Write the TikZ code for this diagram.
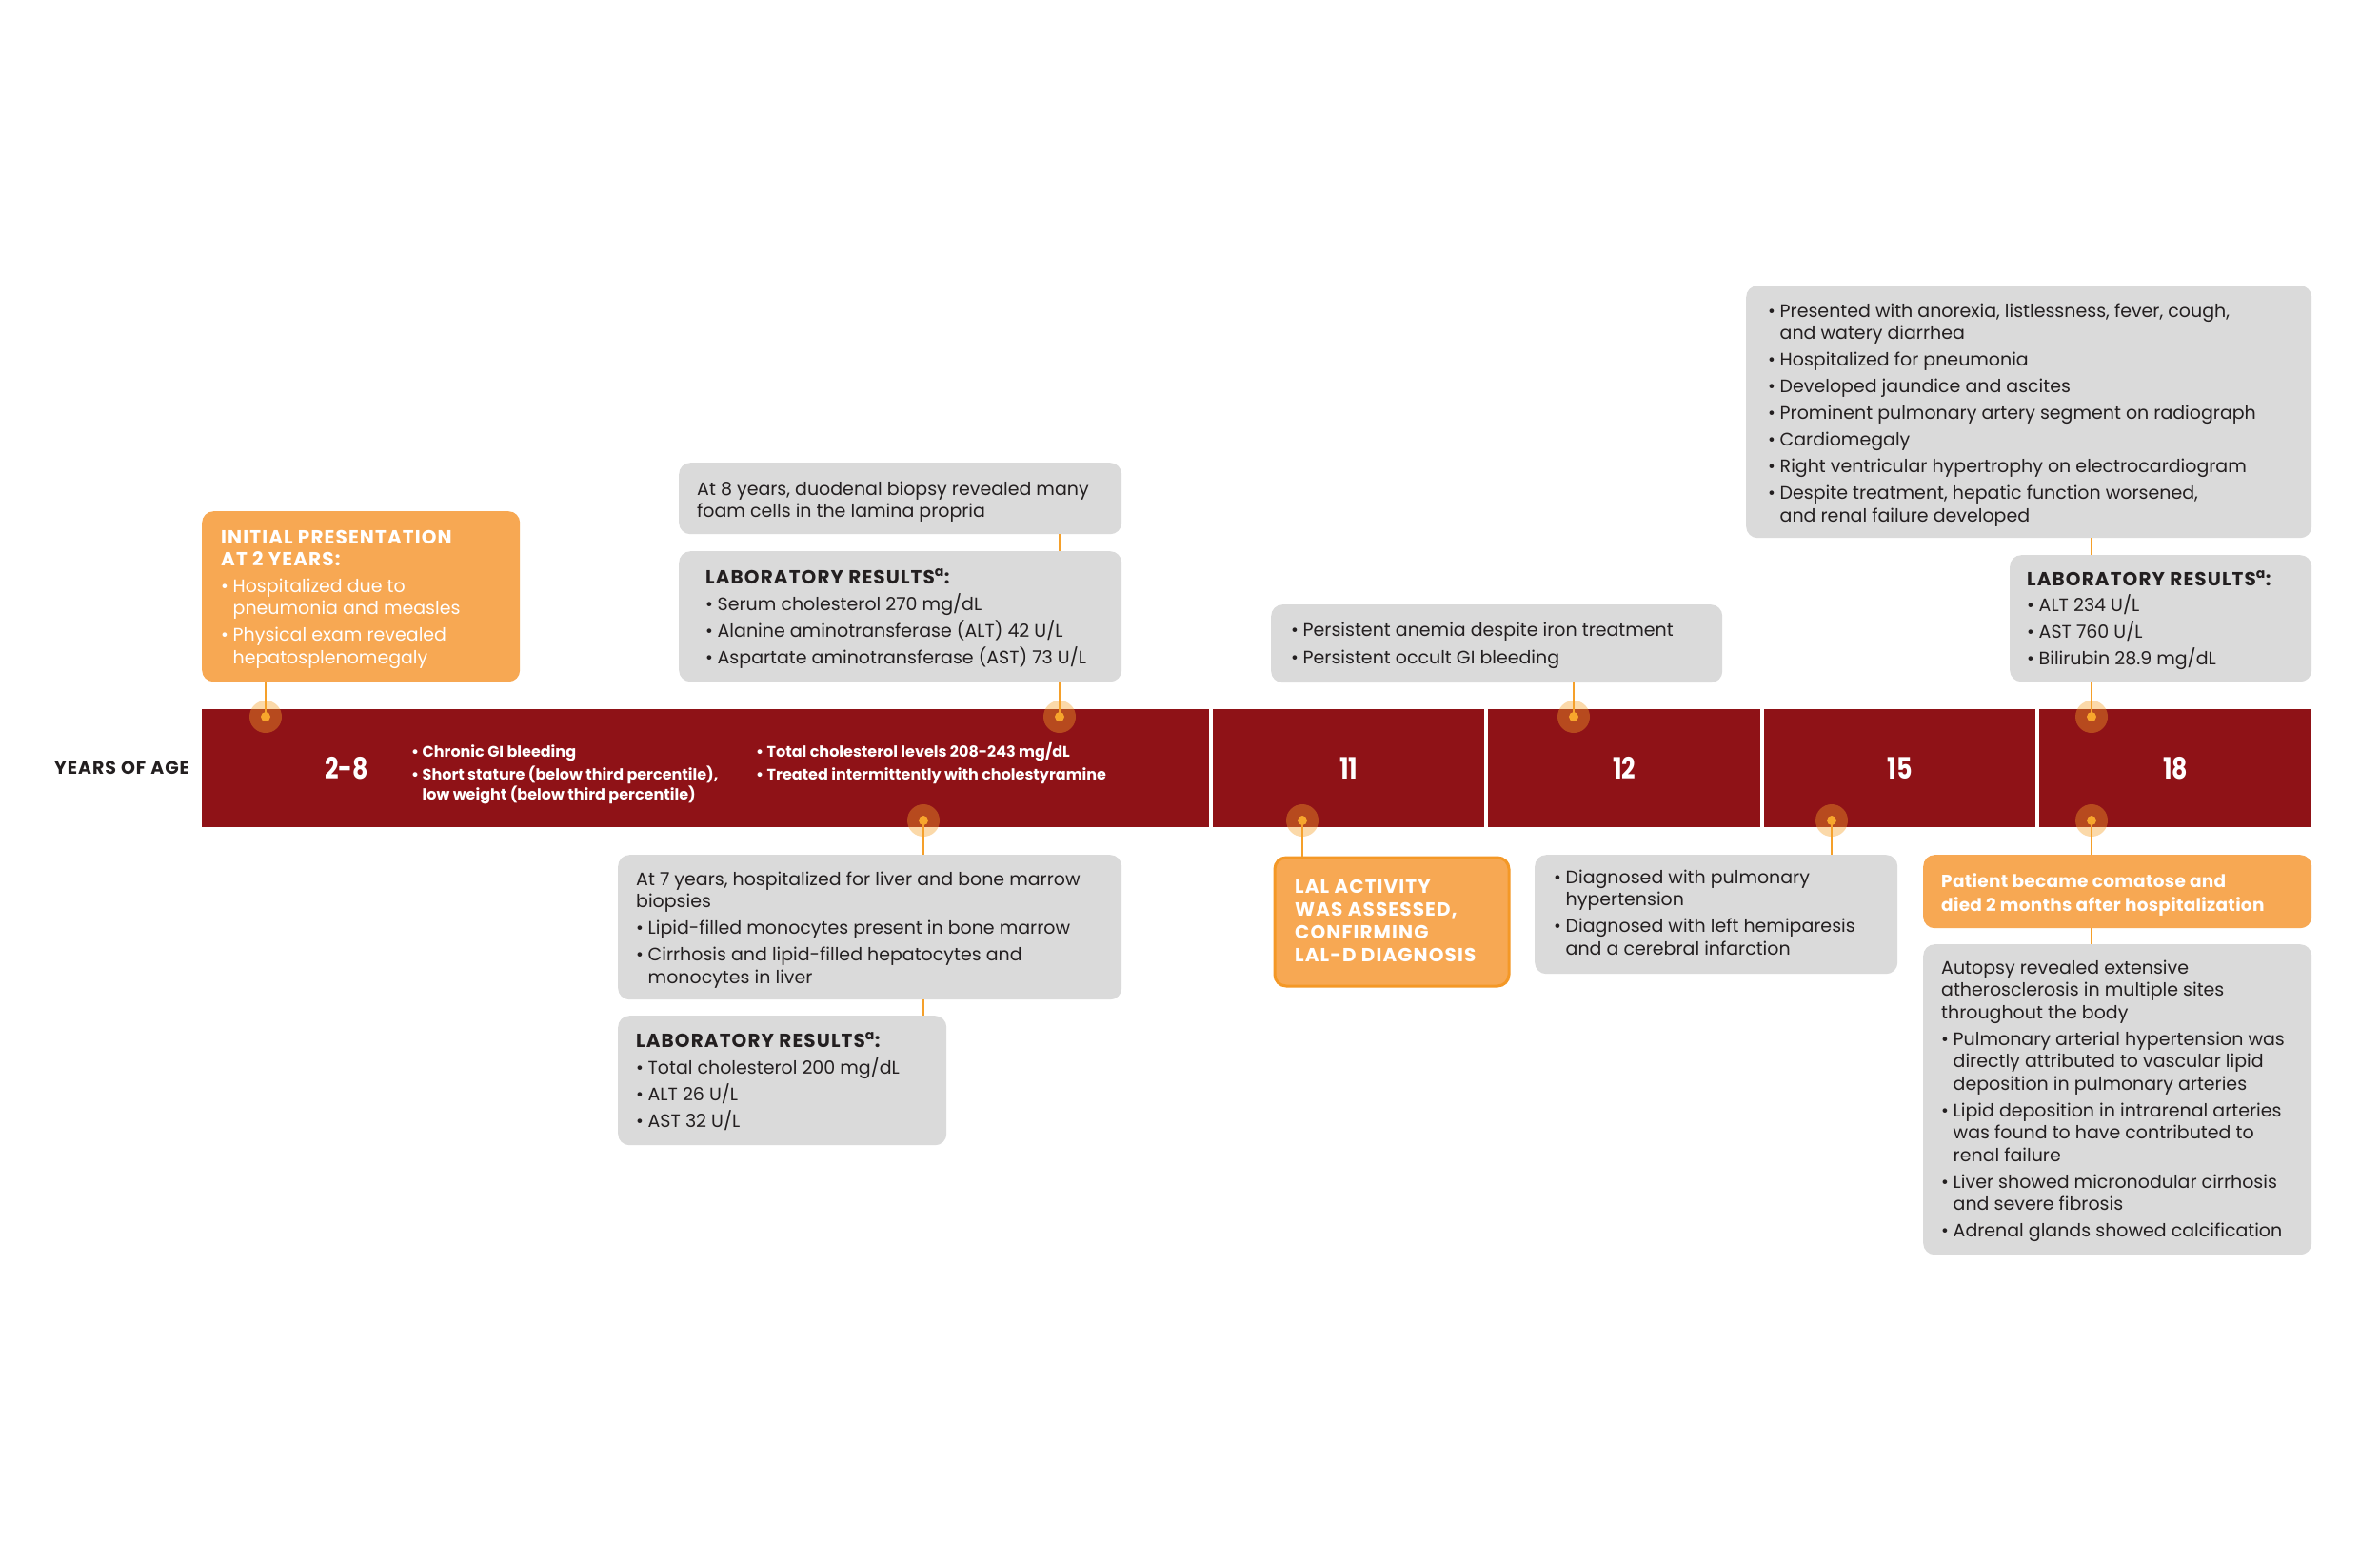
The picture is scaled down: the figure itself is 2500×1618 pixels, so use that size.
\documentclass[tikz,border=0pt]{standalone}
\usepackage{fontspec}
\setmainfont{Poppins}
\newfontfamily\narrowfont{Poppins}[FakeStretch=0.82]
\definecolor{barred}{RGB}{143,18,23}
\definecolor{boxorange}{RGB}{247,168,83}
\definecolor{lineorange}{RGB}{245,160,42}
\definecolor{dotorange}{RGB}{247,166,44}
\definecolor{boxgray}{RGB}{218,218,218}
\definecolor{textdark}{RGB}{35,31,32}
\definecolor{lalborder}{RGB}{244,152,38}
\newcommand\bodyfont{\fontsize{19}{23.5}\selectfont}
\newcommand\headfont{\bfseries\fontsize{20}{24}\selectfont\addfontfeatures{LetterSpace=5.5}}
\newcommand\barfont{\bfseries\fontsize{16}{21}\selectfont}
\newcommand\yearfont{\narrowfont\bfseries\fontsize{31}{31}\selectfont}
\newcommand\bu{\makebox[12.5pt][l]{\textbullet}}
\newcommand\ind{\hspace*{12.5pt}}
\newcommand\bub{\makebox[11.5pt][l]{\textbullet}}
\newcommand\indb{\hspace*{11.5pt}}
\newcommand\txtblock[2]{\parbox[t]{#1}{\raggedright #2}}
\newcommand\labhead{{\headfont LABORATORY RESULTS\textsuperscript{a}:}}
\tikzset{
  gbox/.style={fill=boxgray, rounded corners=12pt, inner sep=0pt, anchor=north west},
  obox/.style={fill=boxorange, rounded corners=12pt, inner sep=0pt, anchor=north west},
  seg/.style={fill=barred, inner sep=0pt, anchor=north west, minimum height=124pt, text=white, font=\yearfont},
  conn/.style={draw=lineorange, line width=2.6pt},
  glow/.style={circle, fill=lineorange, fill opacity=0.4, minimum size=34pt, inner sep=0pt},
  dot/.style={circle, fill=dotorange, minimum size=10pt, inner sep=0pt},
  txt/.style={anchor=base west, inner sep=0pt, text=textdark, font=\bodyfont},
  wtxt/.style={txt, text=white},
  bartxt/.style={anchor=base west, inner sep=0pt, text=white, font=\barfont},
}
\begin{document}
\begin{tikzpicture}[x=1pt,y=-1pt]
\fill[white] (0,0) rectangle (2500,1618);
\useasboundingbox (0,0) rectangle (2500,1618);

% boxes
\node[obox, minimum width=334pt, minimum height=179pt] (binit) at (212,537) {};
\node[gbox, minimum width=465pt, minimum height=75pt] (b8y) at (713,486) {};
\node[gbox, minimum width=465pt, minimum height=137pt] (blab1) at (713,579) {};
\node[gbox, minimum width=529pt, minimum height=152pt] (b7y) at (649,898) {};
\node[gbox, minimum width=345pt, minimum height=136pt] (blab2) at (649,1067) {};
\node[gbox, minimum width=474pt, minimum height=82pt] (banemia) at (1335,635) {};
\node[obox, draw=lalborder, line width=3pt, minimum width=246pt, minimum height=135pt] (blal) at (1337.5,899.5) {};
\node[gbox, minimum width=381pt, minimum height=125pt] (bdiag) at (1612,898) {};
\node[gbox, minimum width=594pt, minimum height=265pt] (btop) at (1834,300) {};
\node[gbox, minimum width=317pt, minimum height=133pt] (blab3) at (2111,583) {};
\node[obox, minimum width=408pt, minimum height=77pt] (bcoma) at (2020,898) {};
\node[gbox, minimum width=408pt, minimum height=326pt] (baut) at (2020,992) {};

% timeline bar
\node[seg, minimum width=1058pt] (s1) at (212,745) {};
\node[seg, minimum width=285pt] (s2) at (1274,745) {11};
\node[seg, minimum width=286pt] (s3) at (1563,745) {12};
\node[seg, minimum width=285pt] (s4) at (1853,745) {15};
\node[seg, minimum width=286pt] (s5) at (2142,745) {18};
\node[text=white, font=\yearfont, inner sep=0pt] (y28) at (364,807) {2-8};
\node[anchor=base west, inner sep=0pt, text=textdark, font=\bfseries\fontsize{19}{22}\selectfont\addfontfeatures{LetterSpace=5}] (yoa) at (57,813) {YEARS OF AGE};

% marker positions
\coordinate (m1) at (279,753);
\coordinate (m2) at (1113,753);
\coordinate (m3) at (970,862);
\coordinate (m4) at (1368,862);
\coordinate (m5) at (1653,753);
\coordinate (m6) at (1924,862);
\coordinate (m7) at (2197,753);
\coordinate (m8) at (2197,862);

% connectors
\draw[conn] (binit.south -| m1) -- (m1);
\draw[conn] (blab1.south -| m2) -- (m2);
\draw[conn] (b8y.south -| m2) -- (blab1.north -| m2);
\draw[conn] (m3) -- (b7y.north -| m3);
\draw[conn] (b7y.south -| m3) -- (blab2.north -| m3);
\draw[conn] (m4) -- (blal.north -| m4);
\draw[conn] (banemia.south -| m5) -- (m5);
\draw[conn] (m6) -- (bdiag.north -| m6);
\draw[conn] (blab3.south -| m7) -- (m7);
\draw[conn] (btop.south -| m7) -- (blab3.north -| m7);
\draw[conn] (m8) -- (bcoma.north -| m8);
\draw[conn] (bcoma.south -| m8) -- (baut.north -| m8);

% markers
\foreach \m in {m1,m2,m3,m4,m5,m6,m7,m8}{
  \node[glow] (g\m) at (\m) {};
  \node[dot] (d\m) at (\m) {};
}

% bar texts
\node[bartxt] (tbar1) at (432,795) {\txtblock{400pt}{\bub Chronic GI bleeding\\[3pt]
\bub Short stature (below third percentile),\\
\indb low weight (below third percentile)}};
\node[bartxt] (tbar2) at (794,795) {\txtblock{420pt}{\bub Total cholesterol levels 208-243 mg/dL\\[3pt]
\bub Treated intermittently with cholestyramine}};

% box texts
\node[wtxt] (tinit) at (232,571) {\txtblock{320pt}{{\headfont INITIAL PRESENTATION\\
AT 2 YEARS:}\\[4pt]
\bu Hospitalized due to\\
\ind pneumonia and measles\\[4.5pt]
\bu Physical exam revealed\\
\ind hepatosplenomegaly}};

\node[txt] (t8y) at (732,520) {\txtblock{450pt}{At 8 years, duodenal biopsy revealed many\\
foam cells in the lamina propria}};

\node[txt] (tlab1) at (741,613) {\txtblock{450pt}{\labhead\\[4.5pt]
\bu Serum cholesterol 270 mg/dL\\[4.5pt]
\bu Alanine aminotransferase (ALT) 42 U/L\\[4.5pt]
\bu Aspartate aminotransferase (AST) 73 U/L}};

\node[txt] (t7y) at (668,930) {\txtblock{520pt}{At 7 years, hospitalized for liver and bone marrow\\
biopsies\\[4.5pt]
\bu Lipid-filled monocytes present in bone marrow\\[4.5pt]
\bu Cirrhosis and lipid-filled hepatocytes and\\
\ind monocytes in liver}};

\node[txt] (tlab2) at (668,1100) {\txtblock{330pt}{\labhead\\[4.5pt]
\bu Total cholesterol 200 mg/dL\\[4.5pt]
\bu ALT 26 U/L\\[4.5pt]
\bu AST 32 U/L}};

\node[txt] (tanemia) at (1356,668) {\txtblock{450pt}{\bu Persistent anemia despite iron treatment\\[5.5pt]
\bu Persistent occult GI bleeding}};

\node[wtxt] (tlal) at (1360,938) {\txtblock{230pt}{\headfont LAL ACTIVITY\\
WAS ASSESSED,\\
CONFIRMING\\
LAL-D DIAGNOSIS}};

\node[txt] (tdiag) at (1632,928) {\txtblock{360pt}{\bu Diagnosed with pulmonary\\
\ind hypertension\\[4.5pt]
\bu Diagnosed with left hemiparesis\\
\ind and a cerebral infarction}};

\node[txt] (ttop) at (1857,333) {\txtblock{570pt}{\bu Presented with anorexia, listlessness, fever, cough,\\
\ind and watery diarrhea\\[4.5pt]
\bu Hospitalized for pneumonia\\[4.5pt]
\bu Developed jaundice and ascites\\[4.5pt]
\bu Prominent pulmonary artery segment on radiograph\\[4.5pt]
\bu Cardiomegaly\\[4.5pt]
\bu Right ventricular hypertrophy on electrocardiogram\\[4.5pt]
\bu Despite treatment, hepatic function worsened,\\
\ind and renal failure developed}};

\node[txt] (tlab3) at (2129,615) {\txtblock{290pt}{\labhead\\[4pt]
\bu ALT 234 U/L\\[4.5pt]
\bu AST 760 U/L\\[4.5pt]
\bu Bilirubin 28.9 mg/dL}};

\node[wtxt] (tcoma) at (2039,932) {\txtblock{385pt}{\bfseries\fontsize{18.5}{25}\selectfont\addfontfeatures{LetterSpace=1.5}Patient became comatose and\\
died 2 months after hospitalization}};

\node[txt] (taut) at (2039,1023) {\txtblock{385pt}{Autopsy revealed extensive\\
atherosclerosis in multiple sites\\
throughout the body\\[4.5pt]
\bu Pulmonary arterial hypertension was\\
\ind directly attributed to vascular lipid\\
\ind deposition in pulmonary arteries\\[4.5pt]
\bu Lipid deposition in intrarenal arteries\\
\ind was found to have contributed to\\
\ind renal failure\\[4.5pt]
\bu Liver showed micronodular cirrhosis\\
\ind and severe fibrosis\\[4.5pt]
\bu Adrenal glands showed calcification}};
\end{tikzpicture}
\end{document}
